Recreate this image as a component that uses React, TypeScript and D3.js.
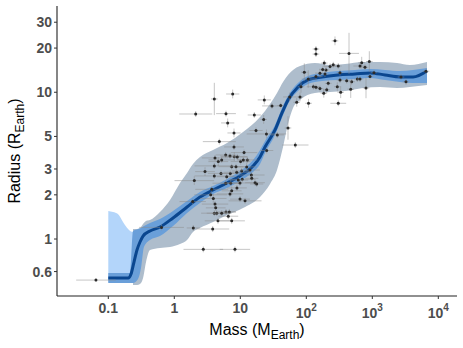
import * as d3 from 'd3'

const W = 463
const H = 348

// smoothed mass-radius relation
const medianMass = [0.1, 0.2, 0.221, 0.245, 0.272, 0.302, 0.336, 0.428, 0.607, 0.956, 1.56, 2.45, 3.86, 6.29, 9.9, 15.6, 19.9, 23.7, 33.6, 42.8, 52.8, 74.8, 106, 173, 302, 547, 923, 1560, 2630, 4140, 6740]
const medianRadius = [0.542, 0.542, 0.577, 0.697, 0.841, 0.954, 1.048, 1.134, 1.207, 1.391, 1.652, 1.933, 2.158, 2.409, 2.689, 3.146, 3.622, 4.238, 5.534, 7.226, 8.862, 10.87, 12.13, 12.72, 13.12, 13.33, 13.54, 13.12, 12.72, 12.72, 13.97]

// narrow band
const innerMass = [0.1, 0.213, 0.237, 0.282, 0.313, 0.347, 0.428, 0.607, 0.956, 1.56, 2.45, 3.86, 6.29, 9.9, 15.6, 19.9, 23.7, 33.6, 42.8, 52.8, 74.8, 106, 173, 302, 547, 923, 1560, 2630, 4140, 6740]
const innerHi = [0.586, 0.586, 1.134, 1.17, 1.189, 1.226, 1.285, 1.369, 1.552, 1.815, 2.091, 2.298, 2.565, 2.907, 3.455, 4.044, 4.656, 5.985, 7.816, 9.44, 11.57, 12.92, 13.54, 13.97, 14.2, 14.42, 14.2, 13.97, 14.2, 14.64]
const innerLo = [0.501, 0.501, 0.501, 0.534, 0.634, 0.882, 0.984, 1.048, 1.226, 1.504, 1.76, 2.026, 2.227, 2.486, 2.862, 3.245, 3.857, 5.117, 6.68, 8.323, 10.2, 11.4, 11.94, 12.13, 12.32, 12.52, 12.13, 11.75, 11.57, 11.57]

// wide band
const outerMass = [0.237, 0.272, 0.302, 0.336, 0.373, 0.428, 0.607, 0.861, 1.22, 1.56, 1.92, 2.45, 3.86, 6.29, 11.0, 19.9, 28.2, 36.0, 44.4, 52.8, 62.9, 80.3, 135, 229, 386, 723, 1310, 2370, 3720, 6740]
const outerHi = [1.17, 1.17, 1.189, 1.266, 1.327, 1.347, 1.528, 1.845, 2.409, 2.818, 3.245, 3.622, 4.044, 4.51, 5.362, 6.786, 8.323, 9.89, 11.75, 13.12, 14.2, 15.11, 15.85, 15.35, 15.6, 16.09, 16.09, 15.85, 15.35, 16.09]
const outerLo = [0.486, 0.486, 0.493, 0.542, 0.697, 0.841, 0.868, 0.882, 0.924, 0.984, 1.116, 1.189, 1.306, 1.458, 1.627, 1.933, 2.372, 2.953, 4.238, 6.08, 7.816, 8.862, 9.89, 10.05, 10.2, 10.7, 10.87, 10.7, 10.87, 11.2]

// light band at the low mass end
const lightMass = [0.1, 0.118, 0.14, 0.167, 0.199, 0.237, 0.272]
const lightHi = [1.552, 1.528, 1.48, 1.306, 1.17, 1.116, 1.134]
const lightLo = [0.505, 0.505, 0.505, 0.505, 0.505, 0.505, 0.505]

// planets: mass, radius, mass error (dex), radius error (dex)
const planets = [
  [0.065, 0.525, 0.3, 0.01], [0.64, 1.2, 0.34, 0.02], [1.94, 1.19, 0.1, 0.02], [3.82, 1.17, 0.25, 0.02],
  [2.75, 0.85, 0.3, 0.02], [8.3, 0.85, 0.23, 0.02], [2.01, 2.5, 0.3, 0.03], [2.92, 2.88, 0.15, 0.03],
  [1.9, 1.8, 0.2, 0.02], [4.59, 1.33, 0.2, 0.02], [7.41, 1.33, 0.2, 0.02], [6.07, 1.53, 0.15, 0.02],
  [6.81, 1.53, 0.1, 0.02], [11.8, 1.82, 0.25, 0.02], [4.04, 1.5, 0.2, 0.02], [4.39, 1.5, 0.15, 0.02],
  [3.9, 1.89, 0.2, 0.03], [5.22, 1.5, 0.15, 0.02], [6.58, 1.43, 0.15, 0.02], [4.14, 1.73, 0.2, 0.02],
  [4.24, 1.63, 0.15, 0.02], [3.56, 2.0, 0.25, 0.02], [6.98, 2.03, 0.2, 0.02], [9.9, 1.87, 0.15, 0.02],
  [7.41, 2.13, 0.15, 0.03], [8.9, 2.23, 0.15, 0.02], [3.69, 2.18, 0.25, 0.02], [6.01, 2.4, 0.2, 0.02],
  [7.16, 2.4, 0.15, 0.02], [9.9, 2.41, 0.2, 0.02], [16.7, 2.42, 0.15, 0.02], [17.7, 2.37, 0.1, 0.02],
  [10.7, 2.55, 0.2, 0.02], [5.1, 2.8, 0.2, 0.02], [4.04, 2.69, 0.3, 0.02], [7.05, 2.8, 0.15, 0.02],
  [8.82, 2.85, 0.2, 0.02], [14.7, 2.73, 0.2, 0.02], [12.5, 3.1, 0.15, 0.03], [4.04, 3.15, 0.3, 0.02],
  [4.14, 3.57, 0.2, 0.02], [4.64, 3.37, 0.15, 0.03], [5.22, 3.46, 0.2, 0.02], [10.1, 3.37, 0.15, 0.02],
  [8.11, 3.64, 0.2, 0.03], [6.01, 3.74, 0.15, 0.02], [11.4, 3.88, 0.2, 0.02], [8.03, 4.24, 0.15, 0.02],
  [4.81, 4.61, 0.25, 0.02], [8.03, 5.28, 0.1, 0.03], [6.44, 6.18, 0.1, 0.03], [6.07, 7.15, 0.15, 0.02],
  [2.11, 7.11, 0.25, 0.02], [4.04, 9.0, 0.05, 0.11], [7.67, 9.73, 0.1, 0.03], [23.1, 8.87, 0.1, 0.03],
  [30.2, 8.07, 0.15, 0.02], [40.9, 8.11, 0.05, 0.02], [16.3, 7.0, 0.1, 0.02], [22.6, 6.53, 0.05, 0.03],
  [17.3, 5.49, 0.1, 0.02], [24.9, 5.2, 0.3, 0.03], [36.4, 5.12, 0.1, 0.02], [52.8, 5.71, 0.05, 0.08],
  [68.1, 4.37, 0.2, 0.02], [25.1, 4.01, 0.1, 0.02], [56.0, 9.29, 0.1, 0.03], [93.3, 13.7, 0.05, 0.06],
  [80.3, 9.29, 0.05, 0.03], [71.6, 8.55, 0.05, 0.03], [108, 8.41, 0.05, 0.03], [83.1, 10.9, 0.05, 0.04],
  [140, 12.8, 0.1, 0.03], [161, 13.5, 0.05, 0.03], [199, 14.2, 0.05, 0.02], [229, 15.0, 0.1, 0.02],
  [187, 15.8, 0.05, 0.02], [128, 10.9, 0.1, 0.02], [161, 10.6, 0.05, 0.02], [184, 9.85, 0.05, 0.03],
  [204, 10.4, 0.05, 0.02], [215, 11.5, 0.05, 0.02], [295, 10.9, 0.05, 0.03], [305, 8.41, 0.12, 0.02],
  [272, 22.4, 0.05, 0.03], [140, 19.7, 0.05, 0.02], [140, 18.2, 0.05, 0.02], [444, 18.4, 0.15, 0.14],
  [177, 14.3, 0.05, 0.02], [256, 15.4, 0.05, 0.02], [305, 15.1, 0.05, 0.02], [192, 13.3, 0.05, 0.02],
  [324, 13.6, 0.05, 0.02], [107, 12.3, 0.1, 0.06], [691, 15.9, 0.05, 0.04], [651, 15.1, 0.1, 0.02],
  [775, 14.8, 0.05, 0.02], [901, 16.2, 0.05, 0.07], [1060, 13.6, 0.05, 0.02], [324, 12.1, 0.05, 0.02],
  [409, 12.0, 0.05, 0.02], [487, 11.8, 0.05, 0.02], [593, 12.3, 0.05, 0.02], [651, 12.3, 0.05, 0.02],
  [140, 10.8, 0.05, 0.02], [332, 10.0, 0.05, 0.04], [471, 10.5, 0.05, 0.06], [803, 10.7, 0.05, 0.07],
  [923, 12.8, 0.05, 0.02], [2720, 12.7, 0.05, 0.02], [3240, 11.8, 0.05, 0.02], [6510, 13.9, 0.05, 0.02],
  [6.98, 3.68, 0.15, 0.02], [9.0, 3.62, 0.15, 0.02], [7.41, 3.11, 0.2, 0.02], [6.22, 2.66, 0.15, 0.02],
  [12.8, 3.46, 0.15, 0.02], [11.1, 3.46, 0.1, 0.02], [8.6, 3.11, 0.1, 0.02], [10.5, 2.91, 0.15, 0.02],
  [14.0, 2.95, 0.15, 0.02], [14.9, 2.59, 0.1, 0.02], [9.33, 2.52, 0.15, 0.02]
]

const xTicks = [0.1, 1, 10, 100, 1000, 10000]
const xTickBase = ['0.1', '1', '10', '10', '10', '10']
const xTickExp = ['', '', '', '2', '3', '4']
const yTicks = [0.6, 1, 2, 3, 5, 10, 20, 30]
const yTickLabels = ['0.6', '1', '2', '3', '5', '10', '20', '30']

export default function App() {
  const left = 57, right = 457, top = 6, bottom = 296

  const x = d3.scaleLog().domain([0.0167, 19200]).range([left, right])
  const y = d3.scaleLog().domain([0.409, 38.7]).range([bottom, top])

  function band(ms, lo, hi) {
    const rows = ms.map((m, i) => ({ m: m, lo: lo[i], hi: hi[i] }))
    return d3.area()
      .x(d => x(d.m))
      .y0(d => y(d.lo))
      .y1(d => y(d.hi))
      .curve(d3.curveMonotoneX)(rows)
  }

  const medianPath = d3.line()
    .x(d => x(d[0]))
    .y(d => y(d[1]))
    .curve(d3.curveMonotoneX)(medianMass.map((m, i) => [m, medianRadius[i]]))

  const tickFont = { fontFamily: 'Liberation Sans, Arial, sans-serif', fontSize: 14, fontWeight: 'bold', fill: '#4d4d4d' }
  const titleFont = { fontFamily: 'Liberation Sans, Arial, sans-serif', fontSize: 16, fill: '#000' }

  return (
    <svg width={W} height={H} style={{ position: 'absolute', left: 0, top: 0, background: '#fff' }}>
      <path d={band(lightMass, lightLo, lightHi)} fill="#b3d5fa" />
      <path d={band(outerMass, outerLo, outerHi)} fill="#aebdcc" />
      <path d={band(innerMass, innerLo, innerHi)} fill="#6a9fd9" />
      <path d={medianPath} fill="none" stroke="#0a468f" strokeWidth={3} />

      <g>
        {planets.map((p, i) => {
          const px = x(p[0]), py = y(p[1])
          const x0 = x(p[0] / Math.pow(10, p[2])), x1 = x(p[0] * Math.pow(10, p[2]))
          const y0 = y(p[1] / Math.pow(10, p[3])), y1 = y(p[1] * Math.pow(10, p[3]))
          return (
            <g key={i}>
              <line x1={x0} x2={x1} y1={py} y2={py} stroke="#8a8a8a" strokeOpacity={0.55} strokeWidth={0.9} />
              <line x1={px} x2={px} y1={y0} y2={y1} stroke="#8a8a8a" strokeOpacity={0.55} strokeWidth={0.9} />
              <circle cx={px} cy={py} r={1.5} fill="#2b2b2b" />
            </g>
          )
        })}
      </g>

      {/* axes */}
      <line x1={left} x2={left} y1={top} y2={bottom} stroke="#222" strokeWidth={1.1} />
      <line x1={left} x2={right} y1={bottom} y2={bottom} stroke="#222" strokeWidth={1.1} />

      {yTicks.map((t, i) => (
        <g key={'y' + i}>
          <line x1={left - 3} x2={left} y1={y(t)} y2={y(t)} stroke="#333" strokeWidth={1} />
          <text x={left - 5} y={y(t)} dy="0.36em" textAnchor="end" style={tickFont}>{yTickLabels[i]}</text>
        </g>
      ))}

      {xTicks.map((t, i) => (
        <g key={'x' + i}>
          <line x1={x(t)} x2={x(t)} y1={bottom} y2={bottom + 3} stroke="#333" strokeWidth={1} />
          {xTickExp[i] === '' ? (
            <text x={x(t)} y={313} textAnchor="middle" style={tickFont}>{xTickBase[i]}</text>
          ) : (
            <text x={x(t)} y={318} textAnchor="middle" style={tickFont}>
              {xTickBase[i]}
              <tspan dy={-7} fontSize={10}>{xTickExp[i]}</tspan>
            </text>
          )}
        </g>
      ))}

      <text x={(left + right) / 2} y={335} textAnchor="middle" style={titleFont}>
        Mass (M<tspan dy={4} fontSize={12}>Earth</tspan><tspan dy={-4}>)</tspan>
      </text>
      <text transform={`translate(20,${(top + bottom) / 2}) rotate(-90)`} textAnchor="middle" style={titleFont}>
        Radius (R<tspan dy={4} fontSize={12}>Earth</tspan><tspan dy={-4}>)</tspan>
      </text>
    </svg>
  )
}
